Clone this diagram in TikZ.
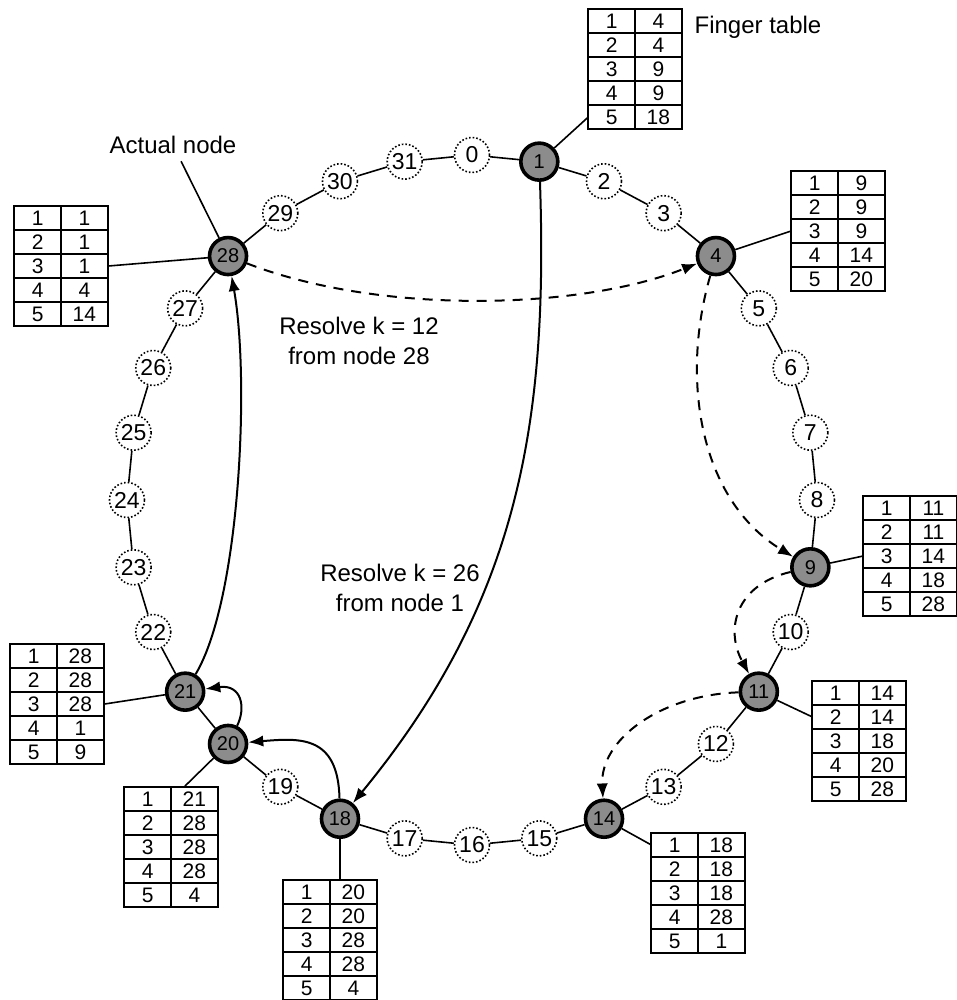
\documentclass[tikz,border=0pt]{standalone}
\usepackage{fontspec}
\setmainfont{Liberation Sans}
\usetikzlibrary{
    matrix,      % Required for the finger tables
    arrows.meta  % Required for ">=Latex" arrowheads
}

\begin{document}
\begin{tikzpicture}[
        x=0.5pt, y=-0.5pt,
        >=Latex,
        thick,
        % Styles
        peer/.style={circle, draw=black, line width=1.8pt, fill=black!45, minimum size=18.5pt, inner sep=0pt, font=\fontsize{10}{10}\selectfont},
        slot/.style={circle, draw=black, densely dotted, thick, fill=white, minimum size=17.5pt, inner sep=0pt, font=\fontsize{11.5}{11.5}\selectfont},
        ftable/.style={matrix of nodes, inner sep=0pt, outer sep=0pt, column sep=-0.8pt, row sep=-0.8pt,
            nodes={draw, thick, minimum width=23.4pt, minimum height=12pt, inner sep=0pt, font=\fontsize{10.5}{10.5}\selectfont}},
        label/.style={font=\fontsize{12}{15}\selectfont, align=center},
        lookup/.style={->, line width=1pt},
        hop/.style={->, line width=1pt, dash pattern=on 5pt off 4pt}
    ]

    \useasboundingbox (0,0) rectangle (957,1000);

    % --- Ring positions (32 identifiers) ---
    \foreach \k in {0,...,31} {
        \coordinate (p\k) at ({472+345*cos(90-11.25*\k)}, {500-345*sin(90-11.25*\k)});
    }

    % --- Empty slots and actual nodes ---
    \foreach \k in {0,2,3,5,6,7,8,10,12,13,15,16,17,19,22,23,24,25,26,27,29,30,31}
        \node[slot] (n\k) at (p\k) {\k};
    \foreach \k in {1,4,9,11,14,18,20,21,28}
        \node[peer] (n\k) at (p\k) {\k};

    % the ring itself
    \foreach \k [evaluate=\k as \j using {int(mod(\k+1,32))}] in {0,...,31}
        \draw (n\k) -- (n\j);

    % --- Finger tables ---
    \matrix[ftable] (T1) at (635,69) {1 & 4\\ 2 & 4\\ 3 & 9\\ 4 & 9\\ 5 & 18\\};
    \matrix[ftable] (T4) at (838,231) {1 & 9\\ 2 & 9\\ 3 & 9\\ 4 & 14\\ 5 & 20\\};
    \matrix[ftable] (T9) at (910,556) {1 & 11\\ 2 & 11\\ 3 & 14\\ 4 & 18\\ 5 & 28\\};
    \matrix[ftable] (T11) at (859,741) {1 & 14\\ 2 & 14\\ 3 & 18\\ 4 & 20\\ 5 & 28\\};
    \matrix[ftable] (T14) at (698,893) {1 & 18\\ 2 & 18\\ 3 & 18\\ 4 & 28\\ 5 & 1\\};
    \matrix[ftable] (T18) at (330,940) {1 & 20\\ 2 & 20\\ 3 & 28\\ 4 & 28\\ 5 & 4\\};
    \matrix[ftable] (T20) at (171,847) {1 & 21\\ 2 & 28\\ 3 & 28\\ 4 & 28\\ 5 & 4\\};
    \matrix[ftable] (T21) at (57,704) {1 & 28\\ 2 & 28\\ 3 & 28\\ 4 & 1\\ 5 & 9\\};
    \matrix[ftable] (T28) at (61,266) {1 & 1\\ 2 & 1\\ 3 & 1\\ 4 & 4\\ 5 & 14\\};

    \draw (n1) -- (T1-5-1.west);
    \draw (n4) -- (T4-3-1.west);
    \draw (n9) -- (T9-3-1.west);
    \draw (n11) -- (T11-2-1.west);
    \draw (n14) -- (T14-1-1.west);
    \draw (n18) -- (n18 |- T18.north);
    \draw (n20) -- ([xshift=7pt]T20.north);
    \draw (n21) -- (T21.east);
    \draw (n28) -- (T28.east);

    % --- Annotations ---
    \node[label] (ft) at (758,27) {Finger table};
    \node[label] (an) at (173,145) {Actual node};
    \draw (an) -- (n28);
    \node[label] (r12) at (359,341) {Resolve k = 12\\from node 28};
    \node[label] (r26) at (400,588) {Resolve k = 26\\from node 1};

    % lookup of 26 from node 1
    \draw[lookup] (n1) .. controls (548,420) and (520,600) .. (n18);
    \draw[lookup] (n18) .. controls (338,735) and (300,738) .. (n20);
    \draw[lookup] (n20) .. controls (246,708) and (242,684) .. (n21);
    \draw[lookup] (n21) .. controls (240,600) and (250,380) .. (n28);

    % lookup of 12 from node 28
    \draw[hop] (n28) .. controls (380,315) and (580,310) .. (n4);
    \draw[hop] (n4) .. controls (680,380) and (700,500) .. (n9);
    \draw[hop] (n9) .. controls (735,585) and (725,630) .. (n11);
    \draw[hop] (n11) .. controls (660,695) and (600,740) .. (n14);

\end{tikzpicture}
\end{document}
